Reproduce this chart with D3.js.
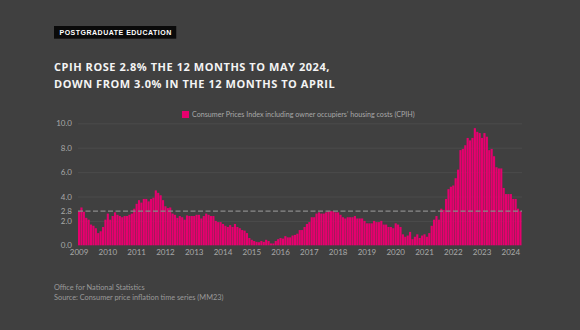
<!DOCTYPE html>
<html>
<head>
<meta charset="utf-8">
<script src="https://cdn.jsdelivr.net/npm/d3@7"></script>
<style>
  html, body { margin: 0; padding: 0; background: #404040; }
  svg { display: block; }
</style>
</head>
<body>
<div id="chart"></div>
<script>
// CPIH 12-month rate, monthly, Jan 2009 - May 2024
var YEARS = [2009, 2010, 2011, 2012, 2013, 2014, 2015, 2016, 2017, 2018, 2019, 2020, 2021, 2022, 2023, 2024];
var cpih2009 = [2.8, 3.1, 2.75, 2.25, 2.1, 1.7, 1.6, 1.4, 1.0, 1.15, 1.5, 2.1];
var cpih2010 = [2.6, 2.1, 2.4, 2.7, 2.5, 2.4, 2.3, 2.4, 2.4, 2.5, 2.6, 3.0];
var cpih2011 = [3.4, 3.7, 3.5, 3.8, 3.8, 3.6, 3.8, 3.9, 4.5, 4.3, 4.1, 3.7];
var cpih2012 = [3.2, 3.05, 3.1, 2.6, 2.5, 2.25, 2.4, 2.3, 2.1, 2.45, 2.4, 2.4];
var cpih2013 = [2.4, 2.5, 2.5, 2.2, 2.4, 2.6, 2.5, 2.4, 2.4, 2.0, 1.9, 1.9];
var cpih2014 = [1.75, 1.6, 1.5, 1.65, 1.5, 1.75, 1.5, 1.4, 1.25, 1.2, 1.0, 0.6];
var cpih2015 = [0.45, 0.35, 0.28, 0.25, 0.35, 0.28, 0.45, 0.35, 0.15, 0.15, 0.35, 0.5];
var cpih2016 = [0.6, 0.55, 0.75, 0.65, 0.65, 0.8, 0.85, 0.95, 1.25, 1.25, 1.5, 1.75];
var cpih2017 = [1.9, 2.3, 2.3, 2.6, 2.7, 2.6, 2.6, 2.7, 2.8, 2.8, 2.8, 2.7];
var cpih2018 = [2.7, 2.5, 2.3, 2.2, 2.3, 2.3, 2.3, 2.4, 2.2, 2.2, 2.2, 2.0];
var cpih2019 = [1.8, 1.8, 1.8, 2.0, 1.9, 1.9, 2.0, 1.7, 1.7, 1.5, 1.5, 1.4];
var cpih2020 = [1.8, 1.7, 1.5, 0.9, 0.7, 0.8, 1.1, 0.5, 0.7, 0.9, 0.6, 0.8];
var cpih2021 = [0.9, 0.7, 1.0, 1.6, 2.1, 2.4, 2.1, 3.0, 2.9, 3.8, 4.6, 4.8];
var cpih2022 = [4.9, 5.5, 6.2, 7.8, 7.9, 8.2, 8.8, 8.6, 8.8, 9.6, 9.3, 9.2];
var cpih2023 = [8.8, 9.2, 8.9, 7.8, 7.9, 7.3, 6.4, 6.3, 6.3, 4.7, 4.2, 4.2];
var cpih2024 = [4.2, 3.8, 3.8, 3.0, 2.8];
var SERIES = [cpih2009, cpih2010, cpih2011, cpih2012, cpih2013, cpih2014, cpih2015, cpih2016,
              cpih2017, cpih2018, cpih2019, cpih2020, cpih2021, cpih2022, cpih2023, cpih2024];
var Y_TICKS = [0, 2, 2.8, 4, 6, 8, 10];
var GRID_TICKS = [2, 4, 6, 8, 10];
var LATEST = 2.8;

var LEGEND_LABEL = "Consumer Prices Index including owner occupiers\u2019 housing costs (CPIH)";
var TAG = "POSTGRADUATE EDUCATION";
var TITLE = ["CPIH ROSE 2.8% THE 12 MONTHS TO MAY 2024,", "DOWN FROM 3.0% IN THE 12 MONTHS TO APRIL"];
var FOOTER = ["Office for National Statistics", "Source: Consumer price inflation time series (MM23)"];

(function () {
    "use strict";
    var W = 580, H = 330;
    var PINK = "#e6006e", TXT = "#a8a8a8";
    var LABEL_FONT = "Lato, 'Noto Sans', sans-serif";

    var data = [];
    YEARS.forEach(function (yr, k) {
        SERIES[k].forEach(function (v, m) { data.push({ key: yr + "-" + (m + 1), year: yr, month: m, value: v }); });
    });

    var svg = d3.select("#chart").append("svg").attr("width", W).attr("height", H);
    svg.append("rect").attr("width", W).attr("height", H).attr("fill", "#404040");

    // tag box
    var tag = svg.append("g").attr("transform", "translate(54,26)");
    var tagText = tag.append("text").attr("x", 5.5).attr("y", 9.3)
        .style("font-family", "'Liberation Sans', Arial, sans-serif").style("font-weight", "bold")
        .style("font-size", "7px").style("letter-spacing", "0.5px").style("fill", "#fff").text(TAG);
    var tw = tagText.node().getComputedTextLength();
    tag.insert("rect", "text").attr("width", tw + 10).attr("height", 12.7).attr("fill", "#0a0a0a");

    // title
    svg.append("g").selectAll("text").data(TITLE).enter().append("text")
        .attr("x", 54).attr("y", function (d, i) { return 71 + i * 17.3; })
        .style("font-family", "'Open Sans', sans-serif").style("font-weight", "bold")
        .style("font-size", "11px").style("letter-spacing", "0.55px").style("fill", "#f4f4f4")
        .text(function (d) { return d; });

    // scales
    var x = d3.scaleBand().domain(data.map(function (d) { return d.key; }))
        .range([78, 521.5]).paddingInner(0.12).paddingOuter(0);
    var y = d3.scaleLinear().domain([0, 10]).range([245.3, 123.3]);

    // grid
    svg.append("g").attr("transform", "translate(78,0)")
        .call(d3.axisLeft(y).tickValues(GRID_TICKS).tickSize(-(522 - 78)).tickFormat(""))
        .call(function (g) { g.select(".domain").remove(); })
        .selectAll("line").attr("stroke", "#4b4b4b").attr("stroke-width", 1);

    // bars
    svg.append("g").selectAll("rect").data(data).enter().append("rect")
        .attr("x", function (d) { return x(d.key); })
        .attr("y", function (d) { return y(d.value); })
        .attr("width", x.bandwidth())
        .attr("height", function (d) { return y(0) - y(d.value); })
        .attr("fill", PINK);

    // reference line at latest value
    svg.append("line").attr("x1", 78).attr("x2", 522)
        .attr("y1", y(LATEST)).attr("y2", y(LATEST))
        .attr("stroke", "#8a8a8a").attr("stroke-width", 1.3).attr("stroke-dasharray", "5,2.5");

    // y axis labels
    svg.append("g").attr("transform", "translate(78,0)")
        .call(d3.axisLeft(y).tickValues(Y_TICKS).tickSize(0).tickPadding(6).tickFormat(d3.format(".1f")))
        .call(function (g) { g.select(".domain").remove(); })
        .selectAll("text").style("font-family", LABEL_FONT).style("font-size", "8px").style("fill", TXT);

    // x axis labels (January of each year)
    svg.append("g").attr("transform", "translate(0,245.3)")
        .call(d3.axisBottom(x).tickValues(YEARS.map(function (yr) { return yr + "-1"; }))
            .tickSize(0).tickPadding(4.2).tickFormat(function (k) { return k.split("-")[0]; }))
        .call(function (g) { g.select(".domain").remove(); })
        .selectAll("text").style("font-family", LABEL_FONT).style("font-size", "8px").style("fill", TXT);

    // legend
    var lg = svg.append("g").attr("transform", "translate(182,111)");
    lg.append("rect").attr("width", 7).attr("height", 7).attr("fill", PINK);
    lg.append("text").attr("x", 10).attr("y", 6.2)
        .style("font-family", LABEL_FONT).style("font-size", "7.15px").style("fill", TXT).text(LEGEND_LABEL);

    // footer
    svg.append("g").selectAll("text").data(FOOTER).enter().append("text")
        .attr("x", 54).attr("y", function (d, i) { return 289.5 + i * 10.3; })
        .style("font-family", LABEL_FONT).style("font-size", "7.35px").style("fill", "#9a9a9a")
        .text(function (d) { return d; });
})();
</script>
</body>
</html>
